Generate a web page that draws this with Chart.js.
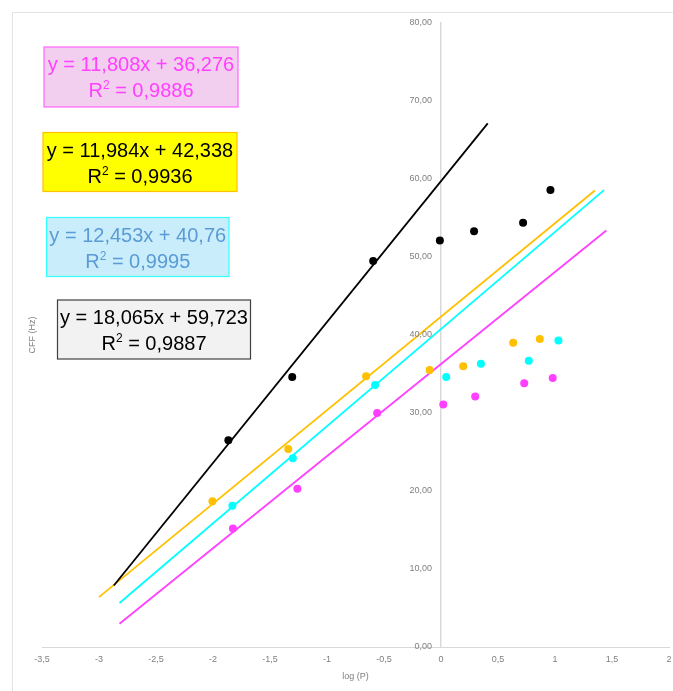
<!DOCTYPE html>
<html><head><meta charset="utf-8">
<script src="https://cdn.jsdelivr.net/npm/chart.js@4.4.1/dist/chart.umd.min.js"></script>
<style>html,body{margin:0;padding:0;background:#fff;} #wrap{width:673px;height:691px;position:relative;}</style>
</head><body><div id="wrap"><canvas id="c" width="673" height="691"></canvas></div>
<script>
// ---- tick labels ----
const xTickValues = [-3.5, -3, -2.5, -2, -1.5, -1, -0.5, 0, 0.5, 1, 1.5, 2];
const xTickLabels = ['-3,5', '-3', '-2,5', '-2', '-1,5', '-1', '-0,5', '0', '0,5', '1', '1,5', '2'];
const yTickValues = [0, 10, 20, 30, 40, 50, 60, 70, 80];
const yTickLabels = ['0,00', '10,00', '20,00', '30,00', '40,00', '50,00', '60,00', '70,00', '80,00'];
const xTitle = 'log (P)';
const yTitle = 'CFF (Hz)';

// ---- series values ----
const blackX = [-1.865, -1.305, -0.595, -0.01, 0.29, 0.72, 0.96];
const blackY = [26.5, 34.6, 49.5, 52.1, 53.3, 54.4, 58.6];
const orangeX = [-2.005, -1.34, -0.657, -0.10, 0.195, 0.633, 0.867];
const orangeY = [18.7, 25.4, 34.7, 35.5, 36.0, 39.0, 39.5];
const cyanX = [-1.83, -1.30, -0.578, 0.046, 0.35, 0.77, 1.03];
const cyanY = [18.1, 24.2, 33.6, 34.6, 36.3, 36.7, 39.3];
const magentaX = [-1.825, -1.26, -0.56, 0.02, 0.30, 0.73, 0.98];
const magentaY = [15.2, 20.3, 30.0, 31.1, 32.1, 33.8, 34.5];

const blackTrendX = [-2.87, 0.41];
const blackTrendY = [7.88, 67.13];
const orangeTrendX = [-3.0, 1.35];
const orangeTrendY = [6.39, 58.52];
const cyanTrendX = [-2.82, 1.43];
const cyanTrendY = [5.64, 58.57];
const magentaTrendX = [-2.82, 1.45];
const magentaTrendY = [2.98, 53.40];

// ---- equation labels ----
const eqLines = ['y = 11,808x + 36,276', 'y = 11,984x + 42,338', 'y = 12,453x + 40,76', 'y = 18,065x + 59,723'];
const r2Values = ['0,9886', '0,9936', '0,9995', '0,9887'];

const pts = (xs, ys) => xs.map((x, i) => ({x: x, y: ys[i]}));

const COL = {black: '#000000', orange: '#FFC000', cyan: '#00FFFF', magenta: '#FF40FF'};
const FAM = "'Liberation Sans Narrow', 'Liberation Sans', Arial, sans-serif";
const tickFont = {family: FAM, size: 9};
const tickColor = '#7f7f7f';

function pointDs(label, data, color) {
  return {label, data, showLine: false, pointRadius: 4, pointHoverRadius: 4,
    backgroundColor: color, borderColor: color, pointBorderWidth: 0};
}
function lineDs(label, data, color) {
  return {label, data, showLine: true, pointRadius: 0, borderColor: color, borderWidth: 1.8,
    backgroundColor: color, fill: false};
}

const boxStyles = [
  {left: 44, top: 47, w: 194, h: 60, bg: '#F2CEEF', border: '#FF66FF', color: '#FF40FF'},
  {left: 43, top: 132.5, w: 194, h: 59, bg: '#FFFF00', border: '#FFC000', color: '#000000'},
  {left: 46.5, top: 217.5, w: 182.5, h: 59, bg: '#C9EDFB', border: '#33FFFF', color: '#5B9BD5'},
  {left: 57.5, top: 300, w: 193, h: 59, bg: '#F2F2F2', border: '#404040', color: '#000000'}
];

const decorPlugin = {
  id: 'decor',
  beforeDraw(chart) {
    const ctx = chart.ctx;
    ctx.save();
    ctx.strokeStyle = '#E3E3E3';
    ctx.lineWidth = 1;
    ctx.strokeRect(12.5, 12.5, 700, 700);
    ctx.restore();
  },
  afterDraw(chart) {
    const ctx = chart.ctx;
    const xs = chart.scales.x, ys = chart.scales.y;
    // y tick labels, placed by the library's scales
    ctx.save();
    ctx.fillStyle = tickColor;
    ctx.font = "9px " + FAM;
    ctx.textAlign = 'right';
    ctx.textBaseline = 'middle';
    const ax = xs.getPixelForValue(0);
    yTickValues.forEach((v, i) => {
      ctx.fillText(yTickLabels[i], ax - 9, ys.getPixelForValue(v));
    });
    ctx.restore();

    // y axis title
    ctx.save();
    ctx.fillStyle = tickColor;
    ctx.font = "9px " + FAM;
    ctx.textAlign = 'center';
    ctx.textBaseline = 'middle';
    ctx.translate(33, (chart.chartArea.top + chart.chartArea.bottom) / 2);
    ctx.rotate(-Math.PI / 2);
    ctx.fillText(yTitle, 0, 0);
    ctx.restore();

    // equation boxes
    boxStyles.forEach((b, i) => {
      ctx.save();
      ctx.fillStyle = b.bg;
      ctx.fillRect(b.left, b.top, b.w, b.h);
      ctx.strokeStyle = b.border;
      ctx.lineWidth = 1.2;
      ctx.strokeRect(b.left, b.top, b.w, b.h);
      const cx = b.left + b.w / 2;
      ctx.fillStyle = b.color;
      ctx.textBaseline = 'alphabetic';
      ctx.textAlign = 'left';
      const big = "20px 'Liberation Sans', Arial, sans-serif";
      const small = "12px 'Liberation Sans', Arial, sans-serif";
      ctx.font = big;
      const w1 = ctx.measureText(eqLines[i]).width;
      ctx.fillText(eqLines[i], cx - w1 / 2, b.top + 24);
      const rest = ' = ' + r2Values[i];
      const wR = ctx.measureText('R').width;
      const wRest = ctx.measureText(rest).width;
      ctx.font = small;
      const w2 = ctx.measureText('2').width;
      const total = wR + w2 + wRest;
      const x0 = cx - total / 2;
      const base2 = b.top + 50;
      ctx.font = big;
      ctx.fillText('R', x0, base2);
      ctx.font = small;
      ctx.fillText('2', x0 + wR, base2 - 8);
      ctx.font = big;
      ctx.fillText(rest, x0 + wR + w2, base2);
      ctx.restore();
    });
  }
};

new Chart(document.getElementById('c'), {
  type: 'scatter',
  data: {
    datasets: [
      pointDs('Black', pts(blackX, blackY), COL.black),
      pointDs('Orange', pts(orangeX, orangeY), COL.orange),
      pointDs('Cyan', pts(cyanX, cyanY), COL.cyan),
      pointDs('Magenta', pts(magentaX, magentaY), COL.magenta),
      lineDs('Black trend', pts(blackTrendX, blackTrendY), COL.black),
      lineDs('Orange trend', pts(orangeTrendX, orangeTrendY), COL.orange),
      lineDs('Cyan trend', pts(cyanTrendX, cyanTrendY), COL.cyan),
      lineDs('Magenta trend', pts(magentaTrendX, magentaTrendY), COL.magenta)
    ]
  },
  options: {
    responsive: false,
    animation: false,
    events: [],
    layout: {padding: {left: 42, right: 3, top: 23, bottom: 4}},
    plugins: {legend: {display: false}, tooltip: {enabled: false}, title: {display: false}},
    scales: {
      x: {
        type: 'linear', position: 'bottom', min: -3.5, max: 2,
        afterBuildTicks: (s) => { s.ticks = xTickValues.map(v => ({value: v})); },
        ticks: {
          autoSkip: false, maxRotation: 0, padding: 0, color: tickColor, font: tickFont,
          callback: (v, i) => xTickLabels[i]
        },
        grid: {display: false, drawTicks: true, tickLength: 7},
        border: {display: true, color: '#D9D9D9', width: 1},
        title: {display: true, text: xTitle, color: tickColor, font: tickFont, padding: {top: 6.8, bottom: 4.6}}
      },
      y: {
        type: 'linear', position: {x: 0}, min: 0, max: 80,
        afterBuildTicks: (s) => { s.ticks = yTickValues.map(v => ({value: v})); },
        ticks: {display: false},
        grid: {display: false, drawTicks: false},
        border: {display: true, color: '#D9D9D9', width: 1.5}
      }
    }
  },
  plugins: [decorPlugin]
});
</script>
</body></html>
